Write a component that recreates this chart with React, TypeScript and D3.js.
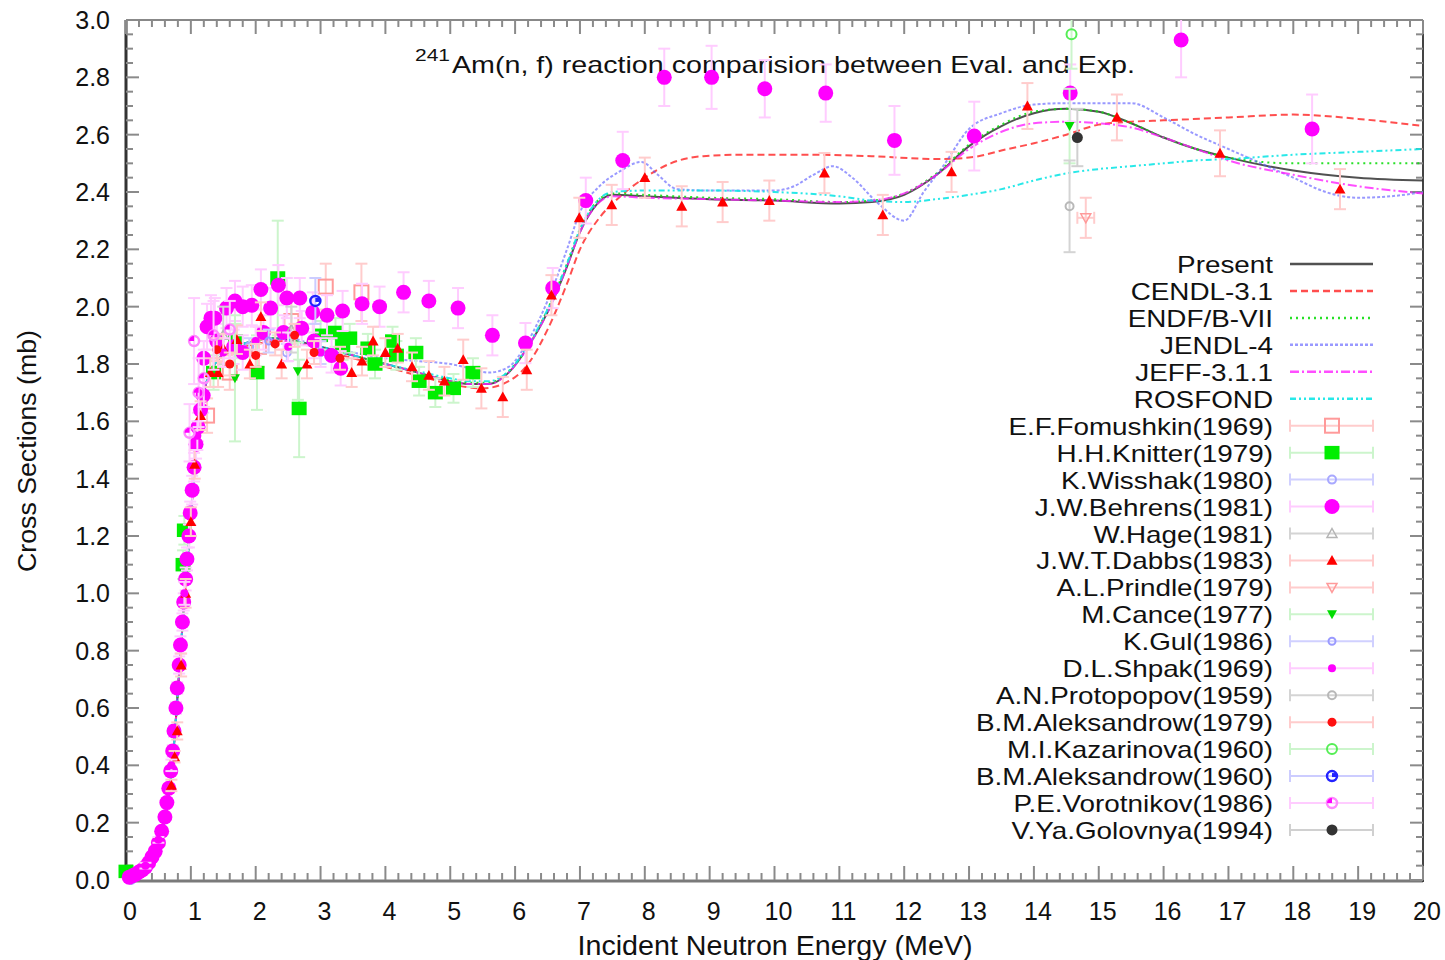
import React from 'react';
import * as d3 from 'd3';

// ---- evaluated cross sections, [E (MeV), sigma (b)] ----
const riseCommon: number[][] = [
  [0, 0], [0.1, 0.01], [0.2, 0.025], [0.3, 0.045], [0.4, 0.075], [0.5, 0.12], [0.55, 0.16],
  [0.6, 0.21], [0.65, 0.28], [0.7, 0.37], [0.75, 0.5], [0.8, 0.66], [0.85, 0.82], [0.9, 0.98],
  [0.95, 1.12], [1.0, 1.27], [1.05, 1.42], [1.1, 1.54], [1.15, 1.63], [1.2, 1.7], [1.3, 1.77], [1.4, 1.81],
];

const presentTail: number[][] = [
  [1.6, 1.85], [1.8, 1.87], [2.0, 1.88], [2.3, 1.89], [2.6, 1.88], [3.0, 1.86], [3.5, 1.83], [4.0, 1.8],
  [4.5, 1.77], [5.0, 1.74], [5.3, 1.73], [5.6, 1.73], [5.9, 1.77], [6.2, 1.86], [6.5, 1.98], [6.8, 2.14],
  [7.0, 2.26], [7.2, 2.34], [7.5, 2.39], [8.0, 2.385], [9.0, 2.375], [10.0, 2.37], [11.0, 2.36], [11.5, 2.365],
  [12.0, 2.39], [12.5, 2.46], [13.0, 2.56], [13.5, 2.63], [14.0, 2.675], [14.5, 2.69], [15.0, 2.68],
  [15.5, 2.64], [16.0, 2.59], [16.5, 2.55], [17.0, 2.52], [18.0, 2.475], [19.0, 2.45], [20.0, 2.44],
];

const cendlTail: number[][] = [
  [1.6, 1.84], [2.0, 1.87], [2.5, 1.88], [3.0, 1.85], [3.5, 1.82], [4.0, 1.79], [4.5, 1.76], [5.0, 1.73],
  [5.5, 1.715], [5.9, 1.74], [6.2, 1.8], [6.5, 1.92], [6.8, 2.08], [7.0, 2.2], [7.3, 2.31], [7.6, 2.38],
  [8.0, 2.45], [8.4, 2.5], [8.9, 2.525], [9.5, 2.53], [10.5, 2.53], [11.5, 2.525], [12.5, 2.515], [13.0, 2.52],
  [13.6, 2.55], [14.0, 2.57], [14.5, 2.6], [15.0, 2.635], [15.5, 2.645], [16.0, 2.65], [17.0, 2.66],
  [18.0, 2.67], [19.0, 2.655], [20.0, 2.63],
];

const endfTail: number[][] = [
  [1.6, 1.85], [1.8, 1.87], [2.0, 1.88], [2.3, 1.89], [2.6, 1.88], [3.0, 1.86], [3.5, 1.83], [4.0, 1.8],
  [4.5, 1.77], [5.0, 1.745], [5.3, 1.735], [5.6, 1.735], [5.9, 1.775], [6.2, 1.86], [6.5, 1.99], [6.8, 2.15],
  [7.0, 2.27], [7.2, 2.35], [7.5, 2.395], [8.0, 2.39], [9.0, 2.38], [10.0, 2.375], [11.0, 2.365], [11.5, 2.37],
  [12.0, 2.395], [12.5, 2.465], [13.0, 2.565], [13.5, 2.635], [14.0, 2.68], [14.5, 2.69], [15.0, 2.68],
  [15.5, 2.64], [16.0, 2.59], [16.5, 2.55], [17.0, 2.52], [17.5, 2.505], [18.0, 2.5], [19.0, 2.5], [20.0, 2.5],
];

const jendlTail: number[][] = [
  [1.6, 1.85], [2.0, 1.88], [2.5, 1.89], [3.0, 1.86], [3.5, 1.84], [4.0, 1.82], [4.5, 1.81], [5.0, 1.8],
  [5.3, 1.785], [5.6, 1.77], [5.9, 1.79], [6.2, 1.88], [6.5, 2.02], [6.8, 2.2], [7.0, 2.33], [7.3, 2.42],
  [7.6, 2.47], [7.95, 2.505], [8.2, 2.46], [8.5, 2.41], [9.0, 2.405], [10.0, 2.405], [10.3, 2.42], [10.6, 2.46],
  [10.9, 2.49], [11.2, 2.45], [11.6, 2.36], [12.0, 2.3], [12.3, 2.4], [12.6, 2.49], [13.0, 2.62], [13.5, 2.675],
  [14.0, 2.705], [14.5, 2.71], [15.0, 2.71], [15.5, 2.71], [16.0, 2.66], [16.5, 2.6], [17.0, 2.55], [17.5, 2.5],
  [18.0, 2.45], [18.5, 2.4], [19.0, 2.38], [19.5, 2.385], [20.0, 2.4],
];

const jeffTail: number[][] = [
  [1.6, 1.85], [1.8, 1.87], [2.0, 1.88], [2.3, 1.885], [2.6, 1.875], [3.0, 1.855], [3.5, 1.83], [4.0, 1.8],
  [4.5, 1.77], [5.0, 1.74], [5.3, 1.73], [5.6, 1.73], [5.9, 1.77], [6.2, 1.86], [6.5, 1.98], [6.8, 2.14],
  [7.0, 2.26], [7.2, 2.34], [7.5, 2.385], [8.0, 2.38], [9.0, 2.375], [10.0, 2.37], [11.0, 2.365], [11.5, 2.37],
  [12.0, 2.395], [12.5, 2.46], [13.0, 2.55], [13.5, 2.61], [14.0, 2.64], [14.5, 2.645], [15.0, 2.64],
  [15.5, 2.625], [16.0, 2.59], [16.5, 2.55], [17.0, 2.51], [18.0, 2.46], [19.0, 2.42], [20.0, 2.395],
];

const rosfondTail: number[][] = [
  [1.6, 1.85], [1.8, 1.87], [2.0, 1.88], [2.3, 1.89], [2.6, 1.88], [3.0, 1.86], [3.5, 1.83], [4.0, 1.8],
  [4.5, 1.775], [5.0, 1.75], [5.3, 1.74], [5.6, 1.74], [5.9, 1.775], [6.2, 1.865], [6.5, 1.99], [6.8, 2.15],
  [7.0, 2.27], [7.2, 2.35], [7.5, 2.4], [8.0, 2.405], [9.0, 2.405], [10.0, 2.4], [11.0, 2.385], [11.5, 2.37],
  [12.0, 2.365], [12.5, 2.375], [13.0, 2.39], [13.5, 2.41], [14.0, 2.44], [14.5, 2.465], [15.0, 2.48],
  [15.5, 2.49], [16.0, 2.5], [16.5, 2.51], [17.0, 2.515], [18.0, 2.53], [19.0, 2.54], [20.0, 2.55],
];

// ---- experimental data, [E, sigma, dSigma, dE?] ----
const fomushkin1969 = [[1.25, 1.62, 0.06], [1.6, 1.77, 0.06], [2.05, 1.86, 0.07], [2.55, 1.95, 0.08], [3.08, 2.07, 0.08], [3.63, 2.05, 0.1]];
const knitter1979 = [
  [0.0, 0.03, 0.01], [0.88, 1.1, 0.05], [0.9, 1.22, 0.05], [1.35, 1.77, 0.06], [1.69, 1.88, 0.06], [2.02, 1.77, 0.13],
  [2.34, 2.1, 0.2], [2.67, 1.645, 0.17], [3.0, 1.9, 0.05], [3.23, 1.91, 0.05], [3.34, 1.865, 0.05], [3.45, 1.89, 0.05],
  [3.73, 1.855, 0.05], [3.84, 1.8, 0.05], [4.11, 1.88, 0.05], [4.17, 1.83, 0.05], [4.47, 1.84, 0.05], [4.52, 1.74, 0.05],
  [4.77, 1.7, 0.05], [5.05, 1.715, 0.05], [5.35, 1.77, 0.05],
];
const wisshak1980 = [[0.08, 0.0, 0.01], [1.9, 1.86, 0.03], [2.48, 1.84, 0.03]];
const behrens1981 = [
  [0.05, 0.01, 0.005], [0.1, 0.015, 0.005], [0.15, 0.02, 0.005], [0.2, 0.028, 0.005], [0.25, 0.035, 0.005],
  [0.3, 0.045, 0.005], [0.35, 0.06, 0.005], [0.4, 0.08, 0.005], [0.45, 0.1, 0.01], [0.5, 0.13, 0.01],
  [0.55, 0.17, 0.01], [0.6, 0.22, 0.01], [0.63, 0.27, 0.01], [0.66, 0.32, 0.015], [0.69, 0.38, 0.015],
  [0.72, 0.45, 0.02], [0.74, 0.52, 0.02], [0.77, 0.6, 0.02], [0.79, 0.67, 0.02], [0.82, 0.75, 0.03],
  [0.84, 0.82, 0.03], [0.87, 0.9, 0.03], [0.89, 0.97, 0.03], [0.92, 1.05, 0.04], [0.94, 1.12, 0.04],
  [0.97, 1.2, 0.04], [0.99, 1.28, 0.04], [1.02, 1.36, 0.05], [1.05, 1.44, 0.05], [1.08, 1.52, 0.05],
  [1.11, 1.58, 0.05], [1.15, 1.64, 0.06], [1.19, 1.69, 0.06],
  [1.2, 1.82, 0.06], [1.4, 1.88, 0.06], [1.66, 1.86, 0.06], [1.8, 1.84, 0.06], [2.12, 1.91, 0.06], [2.43, 1.91, 0.06],
  [2.71, 1.925, 0.06], [2.9, 1.88, 0.06], [3.17, 1.83, 0.06], [3.31, 1.785, 0.06],
  [1.25, 1.93, 0.08], [1.31, 1.96, 0.08], [1.37, 1.96, 0.07], [1.55, 1.995, 0.07], [1.68, 2.02, 0.07],
  [1.8, 2.0, 0.07], [1.94, 2.005, 0.07], [2.08, 2.06, 0.07], [2.23, 1.995, 0.07], [2.35, 2.075, 0.07],
  [2.48, 2.03, 0.07], [2.68, 2.03, 0.07], [2.88, 1.98, 0.07], [3.1, 1.97, 0.07], [3.34, 1.985, 0.07],
  [3.64, 2.01, 0.07], [3.91, 2.0, 0.07], [4.28, 2.05, 0.07], [4.67, 2.02, 0.07], [5.12, 1.995, 0.07],
  [5.65, 1.9, 0.07], [6.16, 1.873, 0.07], [6.58, 2.065, 0.07], [7.09, 2.37, 0.08], [7.66, 2.51, 0.1],
  [8.3, 2.8, 0.1], [9.03, 2.8, 0.11], [9.85, 2.76, 0.1], [10.79, 2.745, 0.1], [11.85, 2.58, 0.12],
  [13.08, 2.595, 0.12], [14.56, 2.745, 0.1], [16.27, 2.93, 0.13], [18.29, 2.62, 0.12],
];
const hage1981 = [[1.5, 1.9, 0.1], [2.55, 1.92, 0.08]];
const dabbs1983 = [
  [0.7, 0.33, 0.02], [0.75, 0.43, 0.02], [0.79, 0.52, 0.03], [0.85, 0.75, 0.04], [0.92, 1.0, 0.05], [1.0, 1.25, 0.05],
  [1.06, 1.45, 0.05], [1.15, 1.62, 0.05], [1.3, 1.77, 0.05], [1.42, 1.77, 0.05], [1.5, 1.855, 0.05], [1.71, 1.885, 0.05],
  [1.91, 1.8, 0.05], [2.08, 1.965, 0.05], [2.4, 1.8, 0.05], [2.79, 1.8, 0.05], [3.48, 1.77, 0.05], [3.64, 1.81, 0.05],
  [3.81, 1.88, 0.05], [4.0, 1.84, 0.05], [4.19, 1.855, 0.05], [4.41, 1.79, 0.05], [4.67, 1.76, 0.05], [4.91, 1.74, 0.05],
  [5.2, 1.815, 0.07], [5.48, 1.715, 0.07], [5.81, 1.685, 0.07], [6.18, 1.78, 0.07], [6.56, 2.04, 0.07], [6.99, 2.31, 0.07],
  [7.49, 2.355, 0.07], [8.0, 2.45, 0.07], [8.57, 2.35, 0.07], [9.2, 2.365, 0.07], [9.92, 2.37, 0.07], [10.77, 2.466, 0.07],
  [11.67, 2.32, 0.07], [12.73, 2.47, 0.07], [13.9, 2.7, 0.08], [15.28, 2.66, 0.08], [16.87, 2.535, 0.08], [18.72, 2.41, 0.07],
];
const prindle1979 = [[14.8, 2.31, 0.07, 0.13]];
const cance1977 = [[1.68, 1.75, 0.22], [2.65, 1.775, 0.1], [14.55, 2.63, 0.13]];
const gul1986 = [[2.2, 1.88, 0.04], [3.0, 1.84, 0.04]];
const shpak1969 = [
  [0.3, 0.05, 0.01], [0.5, 0.14, 0.01], [0.7, 0.4, 0.02], [0.9, 1.0, 0.04], [1.1, 1.55, 0.05],
  [1.5, 1.84, 0.05], [2.0, 1.88, 0.05], [2.5, 1.86, 0.05], [3.0, 1.84, 0.05],
];
const protopopov1959 = [[14.55, 2.35, 0.16]];
const aleksandrow1979 = [[1.4, 1.85, 0.04], [1.6, 1.8, 0.04], [2.0, 1.83, 0.04], [2.3, 1.87, 0.04], [2.6, 1.9, 0.04], [2.9, 1.84, 0.04], [3.3, 1.82, 0.04]];
const kazarinova1960 = [[14.58, 2.95, 0.12]];
const aleksandrow1960 = [[2.92, 2.02, 0.08]];
const vorotnikov1986 = [[0.98, 1.56, 0.1], [1.05, 1.88, 0.15], [1.12, 1.7, 0.12], [1.2, 1.75, 0.1], [1.35, 1.9, 0.12], [1.6, 1.92, 0.1]];
const golovnya1994 = [[14.67, 2.59, 0.1]];

const xTickLabels = ['0', '1', '2', '3', '4', '5', '6', '7', '8', '9', '10', '11', '12', '13', '14', '15', '16', '17', '18', '19', '20'];
const yTickLabels = ['0.0', '0.2', '0.4', '0.6', '0.8', '1.0', '1.2', '1.4', '1.6', '1.8', '2.0', '2.2', '2.4', '2.6', '2.8', '3.0'];

const curves = [
  { name: 'Present', data: riseCommon.concat(presentTail), stroke: '#333333', dash: undefined, op: 0.85 },
  { name: 'CENDL-3.1', data: riseCommon.concat(cendlTail), stroke: '#ff2222', dash: '7,4', op: 0.8 },
  { name: 'ENDF/B-VII', data: riseCommon.concat(endfTail), stroke: '#11dd11', dash: '2,4', op: 0.9 },
  { name: 'JENDL-4', data: riseCommon.concat(jendlTail), stroke: '#5555ff', dash: '3,2', op: 0.6 },
  { name: 'JEFF-3.1.1', data: riseCommon.concat(jeffTail), stroke: '#ff22ff', dash: '9,3,2,3', op: 0.8 },
  { name: 'ROSFOND', data: riseCommon.concat(rosfondTail), stroke: '#11e6e6', dash: '6,3,2,3,2,3', op: 0.9 },
];

const sets = [
  { name: 'E.F.Fomushkin(1969)', data: fomushkin1969, kind: 'sqOpen', size: 16, color: '#ff9a9a', bar: '#ffcccc' },
  { name: 'H.H.Knitter(1979)', data: knitter1979, kind: 'sqFill', size: 15, color: '#00ee00', bar: '#ccf5cc' },
  { name: 'K.Wisshak(1980)', data: wisshak1980, kind: 'circOpen', size: 10, color: '#a8a8ff', bar: '#d0d0ff' },
  { name: 'J.W.Behrens(1981)', data: behrens1981, kind: 'circFill', size: 15, color: '#ff00ff', bar: '#ffccff' },
  { name: 'W.Hage(1981)', data: hage1981, kind: 'triOpen', size: 10, color: '#b4b4b4', bar: '#d4d4d4' },
  { name: 'J.W.T.Dabbs(1983)', data: dabbs1983, kind: 'triFill', size: 11, color: '#ff0000', bar: '#ffcccc' },
  { name: 'A.L.Prindle(1979)', data: prindle1979, kind: 'itriOpen', size: 10, color: '#ff9a9a', bar: '#ffcccc' },
  { name: 'M.Cance(1977)', data: cance1977, kind: 'itriFill', size: 10, color: '#00dd00', bar: '#ccf5cc' },
  { name: 'K.Gul(1986)', data: gul1986, kind: 'circOpen', size: 9, color: '#9a9aff', bar: '#d0d0ff' },
  { name: 'D.L.Shpak(1969)', data: shpak1969, kind: 'circFill', size: 8, color: '#ff00ff', bar: '#ffccff' },
  { name: 'A.N.Protopopov(1959)', data: protopopov1959, kind: 'circOpen', size: 10, color: '#b8b8b8', bar: '#d4d4d4' },
  { name: 'B.M.Aleksandrow(1979)', data: aleksandrow1979, kind: 'circFill', size: 9, color: '#ff1010', bar: '#ffcccc' },
  { name: 'M.I.Kazarinova(1960)', data: kazarinova1960, kind: 'circOpen', size: 12, color: '#55ee55', bar: '#ccf5cc' },
  { name: 'B.M.Aleksandrow(1960)', data: aleksandrow1960, kind: 'circDot', size: 12, color: '#2222ff', bar: '#ccccff' },
  { name: 'P.E.Vorotnikov(1986)', data: vorotnikov1986, kind: 'circHalf', size: 12, color: '#ff00ff', bar: '#ffccff' },
  { name: 'V.Ya.Golovnya(1994)', data: golovnya1994, kind: 'circFill', size: 11, color: '#333333', bar: '#d0d0d0' },
];

const FONT = '"Liberation Sans", Arial, sans-serif';
const L = 126, R = 1423, T = 20, B = 880;

const x = d3.scaleLinear().domain([0, 20]).range([L, R]);
const y = d3.scaleLinear().domain([0, 3]).range([B, T]);

function Marker({ kind, cx, cy, size, color }: any) {
  const r = size / 2;
  const tri = `M${cx},${cy - r} L${cx + r},${cy + r * 0.8} L${cx - r},${cy + r * 0.8} Z`;
  const itri = `M${cx},${cy + r} L${cx + r},${cy - r * 0.8} L${cx - r},${cy - r * 0.8} Z`;
  switch (kind) {
    case 'sqOpen':
      return <rect x={cx - r + 1} y={cy - r + 1} width={size - 2} height={size - 2} fill="none" stroke={color} strokeWidth={2} />;
    case 'sqFill':
      return <rect x={cx - r} y={cy - r * 0.9} width={size} height={size * 0.9} fill={color} />;
    case 'circOpen':
      return <circle cx={cx} cy={cy} r={r - 1} fill="none" stroke={color} strokeWidth={2} />;
    case 'circFill':
      return <circle cx={cx} cy={cy} r={r} fill={color} />;
    case 'triOpen':
      return <path d={tri} fill="none" stroke={color} strokeWidth={1.5} />;
    case 'triFill':
      return <path d={tri} fill={color} />;
    case 'itriOpen':
      return <path d={itri} fill="none" stroke={color} strokeWidth={1.5} />;
    case 'itriFill':
      return <path d={itri} fill={color} />;
    case 'circDot':
      return (
        <g>
          <circle cx={cx} cy={cy} r={r - 1} fill="none" stroke={color} strokeWidth={2.5} />
          <rect x={cx} y={cy - 3} width={4} height={4} fill={color} />
        </g>
      );
    case 'circHalf':
      return (
        <g>
          <circle cx={cx} cy={cy} r={r - 1} fill="none" stroke="#ff88ff" strokeWidth={2.5} />
          <path d={`M${cx - r + 1},${cy} A${r - 1},${r - 1} 0 0 1 ${cx},${cy - r + 1} L${cx},${cy} Z`} fill={color} />
        </g>
      );
    default:
      return null;
  }
}

function ErrorBar({ d, color }: any) {
  const cx = x(d[0]), cy = y(d[1]);
  const y0 = y(d[1] - d[2]), y1 = y(d[1] + d[2]);
  const cap = 6;
  return (
    <g stroke={color} strokeWidth={2} fill="none">
      <line x1={cx} x2={cx} y1={y0} y2={y1} />
      <line x1={cx - cap} x2={cx + cap} y1={y0} y2={y0} />
      <line x1={cx - cap} x2={cx + cap} y1={y1} y2={y1} />
      {d[3] ? (
        <g>
          <line x1={x(d[0] - d[3])} x2={x(d[0] + d[3])} y1={cy} y2={cy} />
          <line x1={x(d[0] - d[3])} x2={x(d[0] - d[3])} y1={cy - cap} y2={cy + cap} />
          <line x1={x(d[0] + d[3])} x2={x(d[0] + d[3])} y1={cy - cap} y2={cy + cap} />
        </g>
      ) : null}
    </g>
  );
}

export default function App() {
  const line = d3.line<number[]>().x(d => x(d[0])).y(d => y(d[1])).curve(d3.curveMonotoneX);

  const xMinor = d3.range(0, 20.001, 0.2);
  const yMinor = d3.range(0, 3.001, 0.05);

  const legY0 = 264, legStep = 26.95;
  const sx0 = 1290, sx1 = 1373, sxm = 1332;

  // legend labels: 24px glyphs stretched horizontally, as the low-res original looks
  const LegText = ({ ly, children }: any) => (
    <text transform={`translate(1273,${ly + 9}) scale(1.16,1)`} textAnchor="end">{children}</text>
  );

  return (
    <svg width={1445} height={960} style={{ position: 'absolute', left: 0, top: 0, background: '#fff' }}>
      <defs>
        <clipPath id="plotArea">
          <rect x={L} y={T} width={R - L} height={B - T + 1} />
        </clipPath>
      </defs>

      {/* frame */}
      <line x1={L} x2={R} y1={T} y2={T} stroke="#888" strokeWidth={2} />
      <line x1={L} x2={R} y1={B + 1} y2={B + 1} stroke="#7a7a7a" strokeWidth={3} />
      <line x1={L} x2={L} y1={T} y2={B + 2} stroke="#333" strokeWidth={3} />
      <line x1={R} x2={R} y1={T} y2={B + 2} stroke="#444" strokeWidth={2} />

      {/* ticks */}
      <g stroke="#8a8a8a" strokeWidth={2}>
        {xMinor.map((v, i) => {
          const major = i % 5 === 0;
          const len = major ? 14 : 7;
          return (
            <g key={'xt' + i}>
              <line x1={x(v)} x2={x(v)} y1={B} y2={B - len} />
              <line x1={x(v)} x2={x(v)} y1={T} y2={T + len} />
            </g>
          );
        })}
        {yMinor.map((v, i) => {
          const major = i % 4 === 0;
          const len = major ? 13 : 7;
          return (
            <g key={'yt' + i}>
              <line x1={L} x2={L + len} y1={y(v)} y2={y(v)} />
              <line x1={R} x2={R - len} y1={y(v)} y2={y(v)} />
            </g>
          );
        })}
      </g>

      {/* tick labels */}
      <g fontFamily={FONT} fontSize={25} fill="#111">
        {xTickLabels.map((t, i) => (
          <text key={'xl' + t} x={x(i) + 4} y={920} textAnchor="middle">{t}</text>
        ))}
        {yTickLabels.map((t, i) => (
          <text key={'yl' + t} x={110} y={y(i * 0.2) + 9} textAnchor="end">{t}</text>
        ))}
      </g>

      {/* axis titles */}
      <text x={775} y={955} textAnchor="middle" fontFamily={FONT} fontSize={28} fill="#111"
        textLength={395} lengthAdjust="spacingAndGlyphs">Incident Neutron Energy (MeV)</text>
      <text transform="translate(36,451) rotate(-90)" textAnchor="middle" fontFamily={FONT} fontSize={26} fill="#111"
        textLength={242} lengthAdjust="spacingAndGlyphs">Cross Sections (mb)</text>

      {/* title */}
      <text x={415} y={61} fontFamily={FONT} fontSize={17} fill="#111" textLength={35} lengthAdjust="spacingAndGlyphs">241</text>
      <text x={452} y={73} fontFamily={FONT} fontSize={24} fill="#111" textLength={683}
        lengthAdjust="spacingAndGlyphs">Am(n, f) reaction comparision between Eval. and Exp.</text>

      {/* evaluations */}
      <g clipPath="url(#plotArea)" fill="none">
        {curves.map(c => (
          <path key={c.name} d={line(c.data) || ''} stroke={c.stroke} strokeWidth={2}
            strokeDasharray={c.dash} strokeOpacity={c.op} />
        ))}
      </g>

      {/* experiments */}
      {sets.map(s => (
        <g key={s.name}>
          <g clipPath="url(#plotArea)">
            {s.data.map((d, i) => <ErrorBar key={i} d={d} color={s.bar} />)}
          </g>
          {s.data.map((d, i) => (
            <Marker key={i} kind={s.kind} cx={x(d[0])} cy={y(d[1])} size={s.size} color={s.color} />
          ))}
        </g>
      ))}

      {/* legend */}
      <g fontFamily={FONT} fontSize={24} fill="#111">
        {curves.map((c, i) => {
          const ly = legY0 + i * legStep;
          return (
            <g key={'lc' + c.name}>
              <LegText ly={ly}>{c.name}</LegText>
              <line x1={sx0} x2={sx1} y1={ly} y2={ly} stroke={c.stroke} strokeWidth={2.5}
                strokeDasharray={c.dash} strokeOpacity={c.op} />
            </g>
          );
        })}
        {sets.map((s, j) => {
          const ly = legY0 + (j + curves.length) * legStep;
          return (
            <g key={'ls' + s.name}>
              <LegText ly={ly}>{s.name}</LegText>
              <g stroke={s.bar} strokeWidth={2}>
                <line x1={sx0} x2={sx1} y1={ly} y2={ly} />
                <line x1={sx0} x2={sx0} y1={ly - 6} y2={ly + 6} />
                <line x1={sx1} x2={sx1} y1={ly - 6} y2={ly + 6} />
              </g>
              <Marker kind={s.kind} cx={sxm} cy={ly} size={s.size} color={s.color} />
            </g>
          );
        })}
      </g>
    </svg>
  );
}
